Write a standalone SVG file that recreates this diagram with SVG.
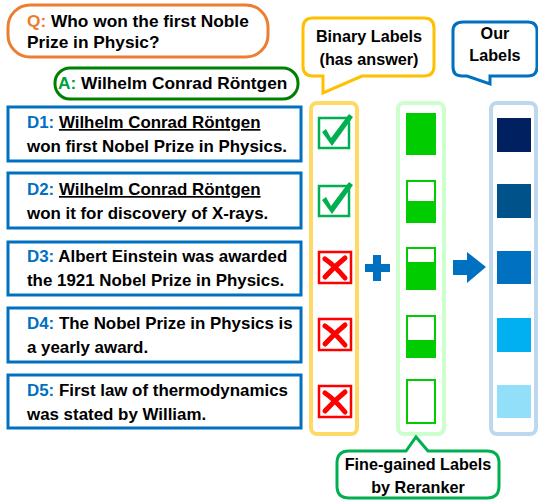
<svg xmlns="http://www.w3.org/2000/svg" width="538" height="500" viewBox="0 0 538 500">
<style>
text{font-family:"Liberation Sans",Arial,sans-serif;font-weight:bold;font-size:16.9px;fill:#000}
.big{font-size:17.3px}
.call{font-size:16.2px}
.doc{fill:#fff;stroke:#0070C0;stroke-width:3}
.lab{fill:#0070C0}
.col{fill:#fff;stroke-width:4}
.gbar{fill:#00CC00}
.gout{fill:#fff;stroke:#00CC00;stroke-width:2}
</style>
<defs>
<g id="chk">
<rect x="1" y="1" width="30" height="30" fill="#fff" stroke="#00B050" stroke-width="2.5"/>
<path d="M4,15 L8,12 L13,21 L31,-3 L35,0 L14,29 Z" fill="#00B050"/>
</g>
<g id="crs">
<rect x="1" y="1" width="32" height="31" fill="#fff" stroke="#FF0000" stroke-width="2.5"/>
<path d="M7,8 Q16,14 27,27 M27,7 Q17,15 7,26" fill="none" stroke="#FF0000" stroke-width="5" stroke-linecap="round"/>
</g>
</defs>

<g id="question">
<rect x="8" y="5" width="260" height="52" rx="22" fill="#fff" stroke="#ED7D31" stroke-width="3"/>
<text class="big" x="27" y="27"><tspan fill="#ED7D31">Q:</tspan> Who won the first Noble</text>
<text class="big" x="27" y="48">Prize in Physic?</text>
</g>
<g id="answer">
<rect x="55" y="68" width="243" height="31" rx="15" fill="#fff" stroke="#008000" stroke-width="3"/>
<text class="big" x="58" y="89"><tspan fill="#00A040">A:</tspan> Wilhelm Conrad Röntgen</text>
</g>

<g id="d1">
<rect class="doc" x="8" y="107" width="293" height="54"/>
<text x="27" y="128"><tspan class="lab">D1:</tspan> <tspan text-decoration="underline">Wilhelm Conrad Röntgen</tspan></text>
<text x="27" y="152">won first Nobel Prize in Physics.</text>
</g>
<g id="d2">
<rect class="doc" x="8" y="173" width="293" height="55"/>
<text x="27" y="195"><tspan class="lab">D2:</tspan> <tspan text-decoration="underline">Wilhelm Conrad Röntgen</tspan></text>
<text x="27" y="219">won it for discovery of X-rays.</text>
</g>
<g id="d3">
<rect class="doc" x="8" y="242" width="293" height="53"/>
<text x="27" y="262"><tspan class="lab">D3:</tspan> Albert Einstein was awarded</text>
<text x="27" y="286">the 1921 Nobel Prize in Physics.</text>
</g>
<g id="d4">
<rect class="doc" x="8" y="308" width="293" height="54"/>
<text x="27" y="329"><tspan class="lab">D4:</tspan> The Nobel Prize in Physics is</text>
<text x="27" y="353">a yearly award.</text>
</g>
<g id="d5">
<rect class="doc" x="8" y="375" width="293" height="53"/>
<text x="27" y="396"><tspan class="lab">D5:</tspan> First law of thermodynamics</text>
<text x="27" y="420">was stated by William.</text>
</g>

<g id="binary-labels">
<path d="M315,18 H424 Q434,18 434,28 V66 Q434,76 424,76 H362 L323,93 V76 H313 Q303,76 303,66 V28 Q303,18 313,18 Z" fill="#fff" stroke="#FFC000" stroke-width="3"/>
<text class="call" x="369" y="42" text-anchor="middle">Binary Labels</text>
<text class="call" x="369" y="65" text-anchor="middle">(has answer)</text>
</g>
<g id="our-labels">
<path d="M463,22 H528 Q537,22 537,31 V67 Q537,76 528,76 H490 V84 L467,76 H462 Q453,76 453,67 V31 Q453,22 463,22 Z" fill="#fff" stroke="#0070C0" stroke-width="3"/>
<text class="call" x="495" y="39" text-anchor="middle">Our</text>
<text class="call" x="495" y="61" text-anchor="middle">Labels</text>
</g>

<g id="binary-column">
<rect class="col" x="311" y="103" width="46" height="331" rx="6" stroke="#FFD966"/>
<use href="#chk" x="318" y="117"/>
<use href="#chk" x="318" y="185"/>
<use href="#crs" x="318" y="251"/>
<use href="#crs" x="318" y="318"/>
<use href="#crs" x="318" y="385"/>
</g>

<g id="reranker-column">
<rect class="col" x="398" y="103" width="46" height="331" rx="6" stroke="#CCFFCC"/>
<rect class="gbar" x="406" y="113" width="30" height="42"/>
<rect class="gbar" x="406" y="180" width="30" height="43"/>
<rect x="408" y="182" width="26" height="19" fill="#fff"/>
<rect class="gbar" x="406" y="247" width="30" height="43"/>
<rect x="408" y="249" width="26" height="13" fill="#fff"/>
<rect class="gbar" x="406" y="315" width="30" height="43"/>
<rect x="408" y="317" width="26" height="23" fill="#fff"/>
<rect class="gout" x="407" y="380" width="28" height="43"/>
</g>

<g id="our-column">
<rect class="col" x="491" y="103" width="45" height="331" rx="6" stroke="#BDD7EE"/>
<rect x="497" y="118" width="34" height="34" fill="#002060"/>
<rect x="497" y="184" width="34" height="34" fill="#00538A"/>
<rect x="497" y="251" width="34" height="33" fill="#0070C0"/>
<rect x="497" y="318" width="34" height="34" fill="#00B0F0"/>
<rect x="497" y="385" width="34" height="33" fill="#92DFFA"/>
</g>

<g id="fine-labels">
<path d="M349,451 H406 L416,437 L428,451 H487 Q499,451 499,463 V486 Q499,498 487,498 H349 Q337,498 337,486 V463 Q337,451 349,451 Z" fill="#fff" stroke="#00B050" stroke-width="3"/>
<text class="call" x="418" y="470" text-anchor="middle">Fine-gained Labels</text>
<text class="call" x="418" y="493" text-anchor="middle">by Reranker</text>
</g>

<g id="connectors">
<path d="M365,264 H373 V255 H381 V264 H390 V272 H381 V281 H373 V272 H365 Z" fill="#0070C0"/>
<path d="M453,260 H467 V252 L486,267 L467,283 V275 H453 Z" fill="#0070C0"/>
</g>
</svg>
